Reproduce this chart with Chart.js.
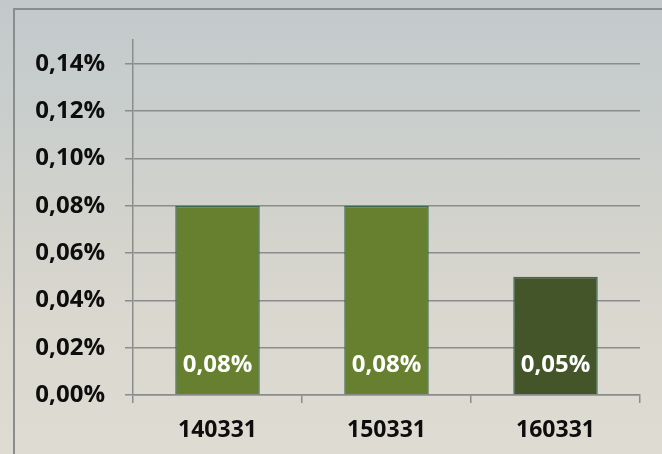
<!DOCTYPE html>
<html>
<head>
<meta charset="utf-8">
<script src="https://cdn.jsdelivr.net/npm/chart.js@4/dist/chart.umd.min.js"></script>
<style>
    html, body { margin: 0; padding: 0; }
    body {
        width: 662px; height: 454px; overflow: hidden; position: relative;
        background: linear-gradient(to bottom, #c3c8cb 0%, #c9cecd 25%, #d3d3cc 50%, #dbd8cf 75%, #dedbd3 100%);
    }
    .frame {
        position: absolute; left: 13px; top: 8px; width: 680px; height: 480px;
        border: 2px solid #8b8c8c;
    }
    .wrap { position: absolute; left: 0; top: 0; width: 662px; height: 454px; }
</style>
</head>
<body>
<div class="frame"></div>
<div class="wrap"><canvas id="barChart"></canvas></div>
<script>
const categories = ['140331', '150331', '160331'];
const values = [0.08, 0.08, 0.05];
const barColors = ['#67802f', '#67802f', '#44552a'];
const yTicks = [0, 0.02, 0.04, 0.06, 0.08, 0.10, 0.12, 0.14];

const fontFamily = '"Open Sans", "DejaVu Sans", sans-serif';

function pct(v) {
    return v.toFixed(2).replace('.', ',') + '%';
}

// value labels at the foot of each bar
const barLabels = {
    id: 'barLabels',
    afterDatasetsDraw(chart) {
        const ctx = chart.ctx;
        const meta = chart.getDatasetMeta(0);
        ctx.save();
        ctx.fillStyle = '#ffffff';
        ctx.font = 'bold 24px ' + fontFamily;
        ctx.textAlign = 'center';
        ctx.textBaseline = 'middle';
        meta.data.forEach((bar, i) => {
            ctx.fillText(pct(values[i]), bar.x, bar.base - 29);
        });
        ctx.restore();
    }
};

const ctx = document.getElementById('barChart').getContext('2d');
new Chart(ctx, {
    type: 'bar',
    data: {
        labels: categories,
        datasets: [{
            data: values,
            backgroundColor: barColors,
            borderColor: '#3c6a4f',
            borderWidth: 1.5,
            categoryPercentage: 1,
            barPercentage: 0.5
        }]
    },
    options: {
        responsive: true,
        maintainAspectRatio: false,
        animation: false,
        layout: { padding: { left: 0, right: 22, top: 40, bottom: 0 } },
        plugins: {
            legend: { display: false },
            tooltip: { enabled: false }
        },
        scales: {
            x: {
                grid: { drawOnChartArea: false, drawTicks: true, tickLength: 8, color: '#8b8c8c', lineWidth: 1.5 },
                border: { color: '#8b8c8c', width: 1.5 },
                ticks: { color: '#0d0d0d', padding: 14, font: { family: fontFamily, size: 23, weight: 'bold' } },
                afterFit(scale) { scale.height = 59; }
            },
            y: {
                min: 0,
                max: 0.15,
                afterBuildTicks(scale) {
                    scale.ticks = yTicks.map(v => ({ value: v }));
                },
                grid: { color: '#8b8c8c', lineWidth: 1.5, tickLength: 8 },
                border: { color: '#8b8c8c', width: 1.5 },
                ticks: {
                    color: '#0d0d0d',
                    padding: 20,
                    font: { family: fontFamily, size: 24, weight: 'bold' },
                    callback: v => pct(v)
                },
                afterFit(scale) { scale.width = 133; }
            }
        }
    },
    plugins: [barLabels]
});
</script>
</body>
</html>
